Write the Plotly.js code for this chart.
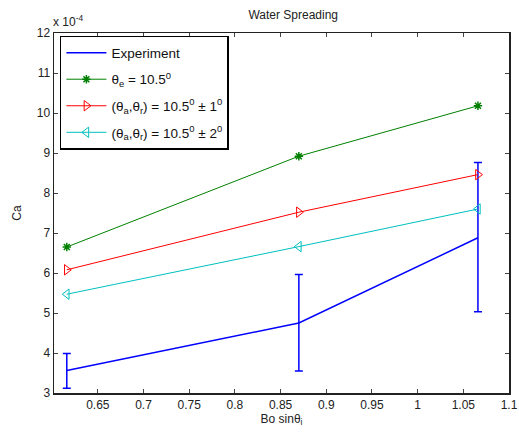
<!DOCTYPE html>
<html><head><meta charset="utf-8">
<script src="https://cdn.plot.ly/plotly-3.0.1.min.js"></script>
<style>body{margin:0;background:#fff}#chart{width:519px;height:432px}</style>
</head><body><div id="chart"></div>
<script>
const xVals = [0.616, 0.870, 1.066];
const experiment = [3.56, 4.75, 6.88];
const expErrPlus = [0.43, 1.21, 1.88];
const expErrMinus = [0.44, 1.20, 1.85];
const thetaE = [6.65, 8.92, 10.18];
const pm1 = [6.08, 7.52, 8.46];
const pm2 = [5.47, 6.66, 7.60];
const xTicks = [0.65, 0.7, 0.75, 0.8, 0.85, 0.9, 0.95, 1, 1.05, 1.1];
const yTicks = [3, 4, 5, 6, 7, 8, 9, 10, 11, 12];

const fam = 'Liberation Sans, Arial, sans-serif';
const font = {family: fam, size: 12, color: '#222'};
const traces = [
  {x: xVals, y: experiment, name: 'Experiment', legendgroup: 'a', mode: 'lines', line: {color: '#0000ff', width: 1.5},
   error_y: {type: 'data', symmetric: false, array: expErrPlus, arrayminus: expErrMinus, color: '#0000ff', thickness: 1.5, width: 4}},
  {x: xVals, y: thetaE, name: 'θ<sub>e</sub> = 10.5<sup>0</sup>', legendgroup: 'b', mode: 'lines+markers', line: {color: '#008000', width: 1},
   marker: {symbol: 'asterisk-open', size: 7, color: '#008000', line: {color: '#008000', width: 1.5}}},
  {x: xVals, y: pm1, name: '(θ<sub>a</sub>,θ<sub>r</sub>) = 10.5<sup>0</sup> ± 1<sup>0</sup>', legendgroup: 'c', mode: 'lines+markers', line: {color: '#ff0000', width: 1},
   marker: {symbol: 'triangle-right-open', size: 9, color: '#ff0000', line: {color: '#ff0000', width: 1}}},
  {x: xVals, y: pm2, name: '(θ<sub>a</sub>,θ<sub>r</sub>) = 10.5<sup>0</sup> ± 2<sup>0</sup>', legendgroup: 'd', mode: 'lines+markers', line: {color: '#00bfbf', width: 1},
   marker: {symbol: 'triangle-left-open', size: 9, color: '#00bfbf', line: {color: '#00bfbf', width: 1}}}
];
const layout = {
  width: 519, height: 432,
  margin: {l: 54, r: 10, t: 33, b: 39},
  paper_bgcolor: '#fff', plot_bgcolor: '#fff',
  font: font,
  title: {text: 'Water Spreading', font: {family: fam, size: 12, color: '#222'}, x: 0.565, xanchor: 'center', y: 0.975, yanchor: 'top'},
  xaxis: {range: [0.602, 1.1], tickvals: xTicks, ticktext: xTicks.map(String), ticks: 'inside', ticklen: 4, mirror: 'allticks',
          showline: true, linecolor: '#222', linewidth: 1.5, showgrid: false, zeroline: false, tickfont: {family: fam, size: 12, color: '#222'},
          title: {text: 'Bo sinθ<sub>i</sub>', font: {family: fam, size: 12, color: '#222'}, standoff: 3}},
  yaxis: {range: [3, 12], tickvals: yTicks, ticks: 'inside', ticklen: 4, mirror: 'allticks',
          showline: true, linecolor: '#222', linewidth: 1.5, showgrid: false, zeroline: false, tickfont: {family: fam, size: 12, color: '#222'},
          title: {text: 'Ca', font: {family: fam, size: 12, color: '#222'}, standoff: 12}},
  showlegend: true,
  legend: {x: 0.013, y: 0.992, xanchor: 'left', yanchor: 'top', bordercolor: '#000', borderwidth: 1.5, bgcolor: '#fff',
           font: {family: fam, size: 13.5, color: '#111'}, tracegroupgap: 6, itemwidth: 40},
  annotations: [{xref: 'paper', yref: 'paper', x: 0, y: 1, xanchor: 'left', yanchor: 'bottom', yshift: 2, xshift: -3,
                 text: 'x 10<sup>-4</sup>', showarrow: false, font: {family: fam, size: 12, color: '#222'}}]
};
Plotly.newPlot('chart', traces, layout, {displayModeBar: false, staticPlot: true});
</script></body></html>
